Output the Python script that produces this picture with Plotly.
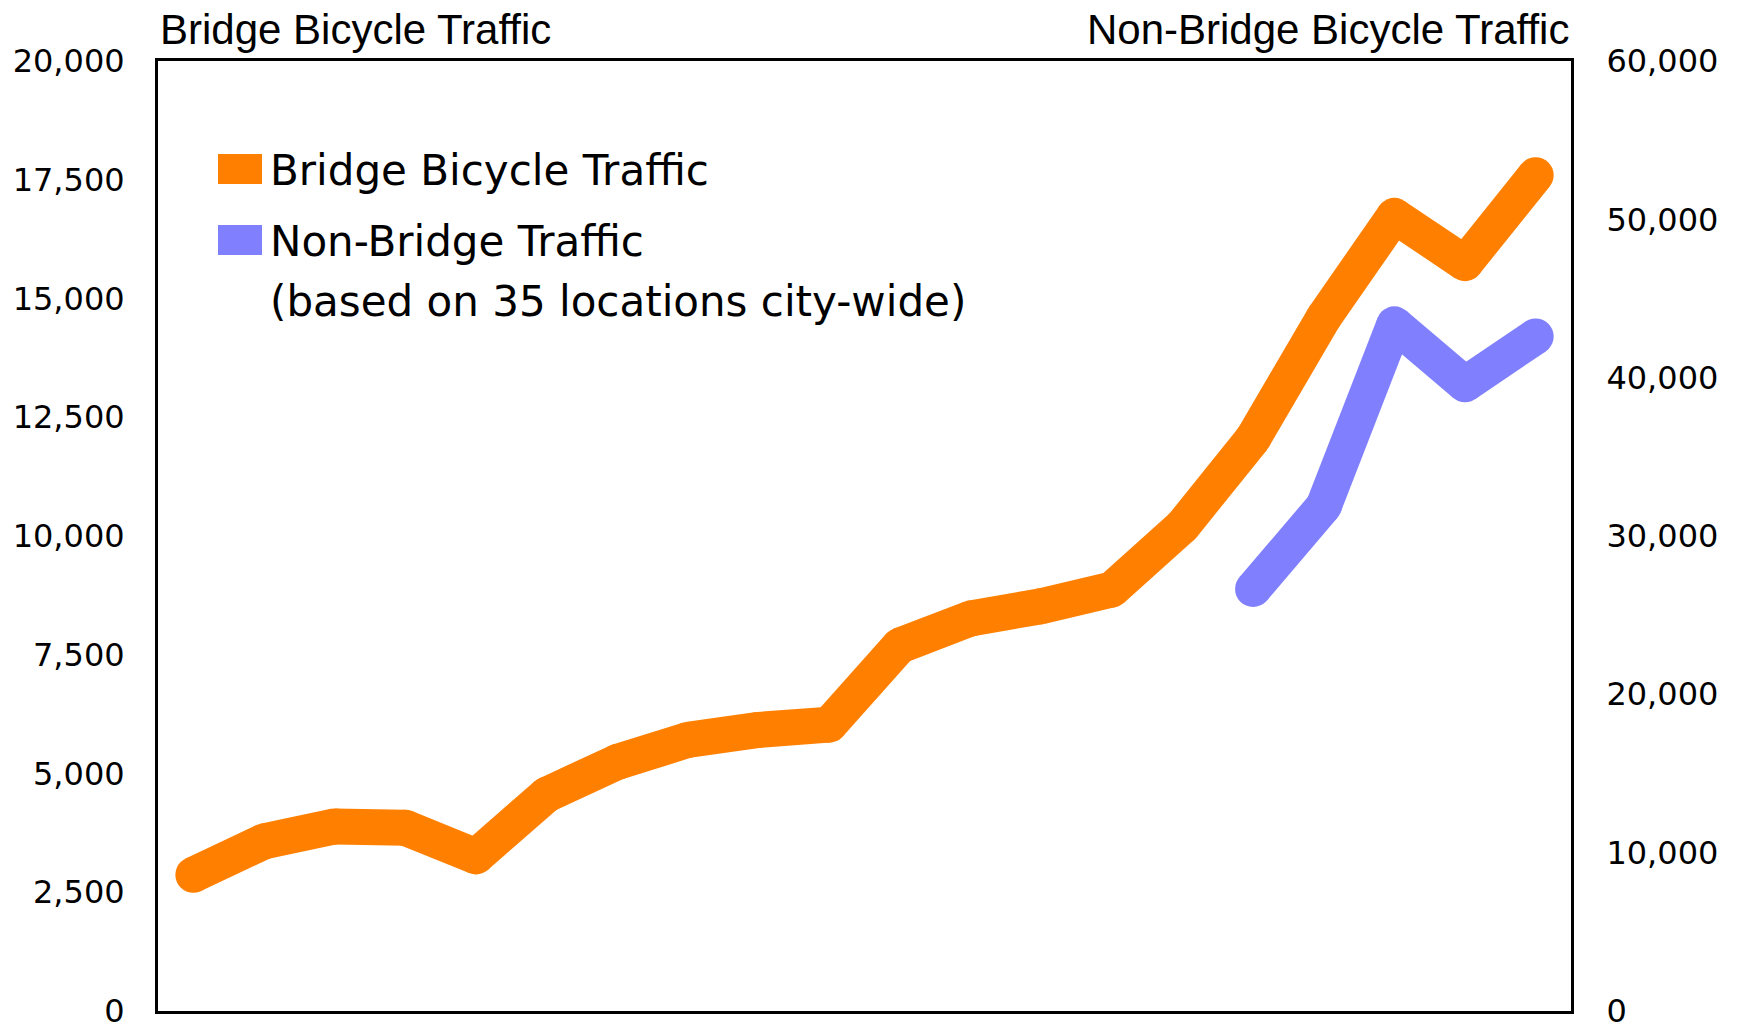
import plotly.graph_objects as go

# ---- data ----
years = [str(y) for y in range(1990, 2010)]
bridge = [2866, 3568, 3884, 3857, 3252, 4552, 5241, 5705, 5916, 6027,
          7692, 8261, 8521, 8872, 10206, 12055, 14600, 16740, 15743, 17597]
non_bridge = [None] * 15 + [26650, 31885, 43370, 39580, 42600]

left_ticks = [0, 2500, 5000, 7500, 10000, 12500, 15000, 17500, 20000]
right_ticks = [0, 10000, 20000, 30000, 40000, 50000, 60000]

ORANGE = "#FF8000"
BLUE = "#8080FF"
LW = 36

W, H = 1740, 1029
ML, MT = 158, 61
PW, PH = 1413, 950
MR, MB = W - ML - PW, H - MT - PH


def px_x(x):
    return (x - ML) / PW


def px_y(y):
    return (MT + PH - y) / PH


def segmented(xs, ys):
    """Split a polyline into independent 2-point segments (separated by gaps)
    so that corners are rounded by the markers instead of mitred."""
    sx, sy = [], []
    for i in range(len(xs) - 1):
        if ys[i] is None or ys[i + 1] is None:
            continue
        sx += [xs[i], xs[i + 1], None]
        sy += [ys[i], ys[i + 1], None]
    return sx, sy


fig = go.Figure()
for ys, color, axis, name in [(bridge, ORANGE, "y", "Bridge Bicycle Traffic"),
                              (non_bridge, BLUE, "y2", "Non-Bridge Traffic")]:
    sx, sy = segmented(years, ys)
    fig.add_trace(go.Scatter(
        x=sx, y=sy, mode="lines", name=name,
        line=dict(color=color, width=LW),
        yaxis=axis, showlegend=False, hoverinfo="skip", connectgaps=False))
    fig.add_trace(go.Scatter(
        x=years, y=ys, mode="markers", name=name,
        marker=dict(color=color, size=LW, line=dict(width=0)),
        yaxis=axis, showlegend=False, hoverinfo="skip"))

tick_font = dict(family="DejaVu Sans", size=32, color="black")

fig.update_layout(
    width=W, height=H,
    margin=dict(l=ML, r=MR, t=MT, b=MB, pad=0, autoexpand=False),
    paper_bgcolor="white", plot_bgcolor="white",
    xaxis=dict(type="category", categoryorder="array", categoryarray=years,
               range=[-0.5, len(years) - 0.5], automargin=False,
               showticklabels=False, showgrid=False, zeroline=False,
               showline=True, mirror=True, linecolor="black", linewidth=3,
               ticks=""),
    yaxis=dict(range=[-2, 20000], tickvals=left_ticks, automargin=False,
               ticktext=[f"{v:,}" for v in left_ticks],
               ticklabeloverflow="allow",
               showgrid=False, zeroline=False,
               showline=True, mirror=True, linecolor="black", linewidth=3,
               ticks="outside", ticklen=24, tickcolor="rgba(0,0,0,0)",
               tickfont=tick_font),
    yaxis2=dict(range=[-6, 60000], tickvals=right_ticks, automargin=False,
                ticktext=[f"{v:,}" for v in right_ticks],
                ticklabeloverflow="allow",
                overlaying="y", side="right",
                showgrid=False, zeroline=False, showline=False,
                ticks="outside", ticklen=28, tickcolor="rgba(0,0,0,0)",
                tickfont=tick_font),
)

title_font = dict(family="Liberation Sans, Arial", size=42, color="black")
fig.add_annotation(text="Bridge Bicycle Traffic", xref="paper", yref="paper",
                   x=0, y=1, xanchor="left", yanchor="middle", yshift=32,
                   showarrow=False, font=title_font)
fig.add_annotation(text="Non-Bridge Bicycle Traffic", xref="paper", yref="paper",
                   x=1, y=1, xanchor="right", yanchor="middle", yshift=32,
                   showarrow=False, font=title_font)

# custom legend
leg_font = dict(family="DejaVu Sans", size=42, color="black")
fig.add_shape(type="rect", xref="paper", yref="paper",
              x0=px_x(218), x1=px_x(262), y0=px_y(154), y1=px_y(184),
              fillcolor=ORANGE, line=dict(width=0))
fig.add_shape(type="rect", xref="paper", yref="paper",
              x0=px_x(218), x1=px_x(262), y0=px_y(225), y1=px_y(255),
              fillcolor=BLUE, line=dict(width=0))
for txt, yc in [("Bridge Bicycle Traffic", 170),
                ("Non-Bridge Traffic", 242),
                ("(based on 35 locations city-wide)", 301)]:
    fig.add_annotation(text=txt, xref="paper", yref="paper",
                       x=px_x(268), y=px_y(yc), xanchor="left", yanchor="middle",
                       showarrow=False, font=leg_font)

fig.write_html("out.html",
               config={"displayModeBar": False, "staticPlot": True},
               post_script="document.body.style.margin='0';")
